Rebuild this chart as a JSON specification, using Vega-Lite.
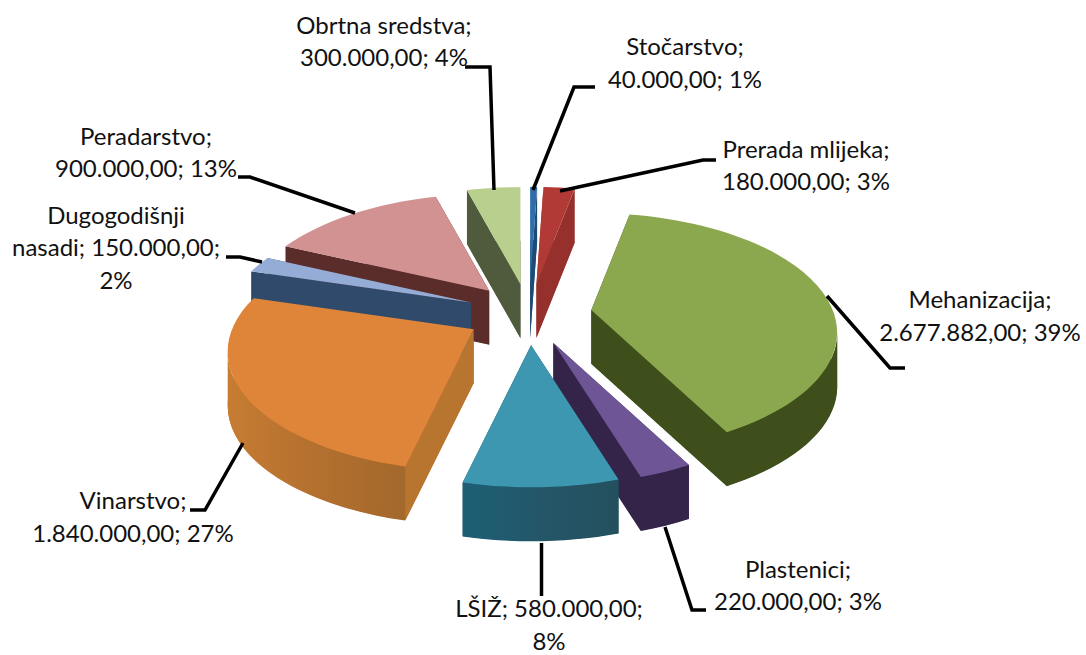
{
"$schema":"https://vega.github.io/schema/vega-lite/v6.json",
"width":1086,"height":655,"padding":0,"background":"white",
"autosize":{"type":"fit","contains":"padding"},
"config":{"view":{"stroke":null}},
"data":{"values":[
{"name":"Stočarstvo","value":40000,"label":"Stočarstvo;\n40.000,00; 1%"},
{"name":"Prerada mlijeka","value":180000,"label":"Prerada mlijeka;\n180.000,00; 3%"},
{"name":"Mehanizacija","value":2677882,"label":"Mehanizacija;\n2.677.882,00; 39%"},
{"name":"Plastenici","value":220000,"label":"Plastenici;\n220.000,00; 3%"},
{"name":"LŠIŽ","value":580000,"label":"LŠIŽ; 580.000,00;\n8%"},
{"name":"Vinarstvo","value":1840000,"label":"Vinarstvo;\n1.840.000,00; 27%"},
{"name":"Dugogodišnji nasadi","value":150000,"label":"Dugogodišnji\nnasadi; 150.000,00;\n2%"},
{"name":"Peradarstvo","value":900000,"label":"Peradarstvo;\n900.000,00; 13%"},
{"name":"Obrtna sredstva","value":300000,"label":"Obrtna sredstva;\n300.000,00; 4%"}
]},
"transform":[
{"joinaggregate":[{"op":"sum","field":"value","as":"total"}]},
{"window":[{"op":"sum","field":"value","as":"cum"}]},
{"calculate":"(datum.cum-datum.value)/datum.total*2*PI","as":"a1"},
{"calculate":"datum.cum/datum.total*2*PI","as":"a2"},
{"calculate":"(datum.a1+datum.a2)/2","as":"mid"},
{"calculate":"-cos(datum.mid)","as":"zo"},
{"calculate":"datum.a1-0.105*sin(datum.a1)+(datum.a1<PI?-0.035*min(1,datum.a1/0.3):0.026*min(1,(2*PI-datum.a1)/0.2))","as":"p1"},
{"calculate":"datum.a2-0.105*sin(datum.a2)+(datum.a2<PI?-0.035*min(1,datum.a2/0.3):0.026*min(1,(2*PI-datum.a2)/0.2))","as":"p2"},
{"calculate":"529+63*sin(datum.mid)","as":"ax"},
{"calculate":"317.5-31*cos(datum.mid)","as":"ay"},
{"calculate":"datum.ay+54","as":"ayd"},
{"calculate":"round(2460*sin(datum.p1))/10","as":"x1"},
{"calculate":"round(225-1195*cos(datum.p1))/10","as":"y1"},
{"calculate":"round(2460*sin(datum.p2))/10","as":"x2"},
{"calculate":"round(225-1195*cos(datum.p2))/10","as":"y2"},
{"calculate":"max(datum.p1,PI/2)","as":"b1"},
{"calculate":"min(datum.p2,3*PI/2)","as":"b2"},
{"calculate":"round(2460*sin(datum.b1))/10","as":"bx1"},
{"calculate":"round(225-1195*cos(datum.b1))/10","as":"by1"},
{"calculate":"round(2460*sin(datum.b2))/10","as":"bx2"},
{"calculate":"round(225-1195*cos(datum.b2))/10","as":"by2"},
{"calculate":"'M0 0L'+datum.x1+' '+datum.y1+'A246 119.5 0 0 1 '+datum.x2+' '+datum.y2+'Z'","as":"pTop"},
{"calculate":"'M0 0L'+datum.x1+' '+datum.y1+'L'+datum.x1+' '+(datum.y1+54)+'L0 54Z'","as":"pCut1"},
{"calculate":"'M0 0L'+datum.x2+' '+datum.y2+'L'+datum.x2+' '+(datum.y2+54)+'L0 54Z'","as":"pCut2"},
{"calculate":"'M'+datum.bx1+' '+datum.by1+'A246 119.5 0 0 1 '+datum.bx2+' '+datum.by2+'L'+datum.bx2+' '+(datum.by2+54)+'A246 119.5 0 0 0 '+datum.bx1+' '+(datum.by1+54)+'Z'","as":"pBand"},
{"calculate":"{'Stočarstvo':685,'Prerada mlijeka':806,'Mehanizacija':980,'Plastenici':798,'LŠIŽ':549,'Vinarstvo':133,'Dugogodišnji nasadi':116,'Peradarstvo':146,'Obrtna sredstva':384}[datum.name]","as":"lx"},
{"calculate":"{'Stočarstvo':56,'Prerada mlijeka':159,'Mehanizacija':311,'Plastenici':583,'LŠIŽ':623,'Vinarstvo':514,'Dugogodišnji nasadi':226,'Peradarstvo':146,'Obrtna sredstva':34}[datum.name]","as":"ly"},
{"calculate":"{'Stočarstvo':'M533 190L574 87L595 87','Prerada mlijeka':'M560 191L703 160L716 160','Mehanizacija':'M827 296L890 368L905 368','Plastenici':'M665 527L692 610L706 610','LŠIŽ':'M541.5 543L541.5 596','Vinarstvo':'M243 443L205 510L190 510','Dugogodišnji nasadi':'M262 262L240 257L226 257','Peradarstvo':'M355 213L250 177L238 177','Obrtna sredstva':'M494 190L490 67L465 67'}[datum.name]","as":"pLead"}
],
"layer":[
{"mark":{"type":"point","filled":true,"size":4,"opacity":1,"strokeWidth":0},
 "encoding":{"x":{"field":"ax","type":"quantitative","scale":{"domain":[0,1086],"nice":false,"zero":false},"axis":null},
  "y":{"field":"ayd","type":"quantitative","scale":{"domain":[655,0],"nice":false,"zero":false},"axis":null},
  "order":{"field":"zo","type":"quantitative"},
  "shape":{"field":"pTop","type":"nominal","scale":null,"legend":null},
  "color":{"field":"name","type":"nominal","legend":null,"scale":{"domain":["Stočarstvo","Prerada mlijeka","Mehanizacija","Plastenici","LŠIŽ","Vinarstvo","Dugogodišnji nasadi","Peradarstvo","Obrtna sredstva"],"range":["#1f4a75","#96302c","#3e4f1c","#35244a","#1e5060","#b8752f","#2f4a6b","#5a2c2a","#4f5b3c"]}}}},
{"mark":{"type":"point","filled":true,"size":4,"opacity":1,"strokeWidth":0},
 "encoding":{"x":{"field":"ax","type":"quantitative","axis":null},"y":{"field":"ay","type":"quantitative","axis":null},
  "order":{"field":"zo","type":"quantitative"},
  "shape":{"field":"pCut2","type":"nominal","scale":null,"legend":null},
  "color":{"field":"name","type":"nominal","legend":null}}},
{"mark":{"type":"point","filled":true,"size":4,"opacity":1,"strokeWidth":0},
 "encoding":{"x":{"field":"ax","type":"quantitative","axis":null},"y":{"field":"ay","type":"quantitative","axis":null},
  "order":{"field":"zo","type":"quantitative"},
  "shape":{"field":"pCut1","type":"nominal","scale":null,"legend":null},
  "color":{"field":"name","type":"nominal","legend":null}}},
{"transform":[{"filter":"datum.name==='Mehanizacija'||datum.name==='Plastenici'"}],
 "mark":{"type":"point","filled":true,"size":4,"opacity":1,"strokeWidth":0},
 "encoding":{"x":{"field":"ax","type":"quantitative","axis":null},"y":{"field":"ay","type":"quantitative","axis":null},
  "shape":{"field":"pBand","type":"nominal","scale":null,"legend":null},
  "color":{"field":"name","type":"nominal","legend":null}}},
{"transform":[{"filter":"datum.name==='LŠIŽ'"}],
 "mark":{"type":"point","filled":true,"size":4,"opacity":1,"strokeWidth":0,"fill":{"gradient":"linear","x1":0,"y1":0,"x2":1,"y2":0,"stops":[{"offset":0,"color":"#1d5f75"},{"offset":0.5,"color":"#245668"},{"offset":1,"color":"#24505e"}]}},
 "encoding":{"x":{"field":"ax","type":"quantitative","axis":null},"y":{"field":"ay","type":"quantitative","axis":null},
  "shape":{"field":"pBand","type":"nominal","scale":null,"legend":null}}},
{"transform":[{"filter":"datum.name==='Vinarstvo'"}],
 "mark":{"type":"point","filled":true,"size":4,"opacity":1,"strokeWidth":0,"fill":{"gradient":"linear","x1":0,"y1":0,"x2":1,"y2":0,"stops":[{"offset":0,"color":"#c67c32"},{"offset":0.5,"color":"#b4702f"},{"offset":1,"color":"#a2682c"}]}},
 "encoding":{"x":{"field":"ax","type":"quantitative","axis":null},"y":{"field":"ay","type":"quantitative","axis":null},
  "shape":{"field":"pBand","type":"nominal","scale":null,"legend":null}}},
{"mark":{"type":"point","filled":true,"size":4,"opacity":1,"strokeWidth":0},
 "encoding":{"x":{"field":"ax","type":"quantitative","axis":null},"y":{"field":"ay","type":"quantitative","axis":null},
  "shape":{"field":"pTop","type":"nominal","scale":null,"legend":null},
  "fill":{"field":"name","type":"nominal","legend":null,"scale":{"domain":["Stočarstvo","Prerada mlijeka","Mehanizacija","Plastenici","LŠIŽ","Vinarstvo","Dugogodišnji nasadi","Peradarstvo","Obrtna sredstva"],"range":["#2f6ea8","#b23a36","#8ca84f","#6e5596","#3d97b0","#df853a","#95add6","#d29291","#b8cf8e"]}}}},
{"mark":{"type":"point","filled":false,"size":4,"opacity":1,"stroke":"black","strokeWidth":3.5,"fill":null},
 "encoding":{"x":{"datum":0,"type":"quantitative","axis":null},"y":{"datum":0,"type":"quantitative","axis":null},
  "shape":{"field":"pLead","type":"nominal","scale":null,"legend":null}}},
{"mark":{"type":"text","font":"Lato","fontSize":24,"lineHeight":32.5,"lineBreak":"\n","align":"center","baseline":"alphabetic","color":"#111111"},
 "encoding":{"x":{"field":"lx","type":"quantitative","axis":null},"y":{"field":"ly","type":"quantitative","axis":null},
  "text":{"field":"label","type":"nominal"}}}
]
}
